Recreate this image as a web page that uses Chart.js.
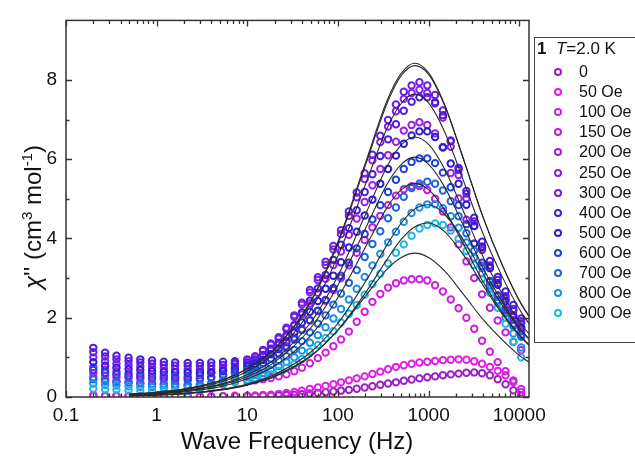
<!DOCTYPE html>
<html><head><meta charset="utf-8">
<script src="https://cdn.jsdelivr.net/npm/chart.js@4.4.1/dist/chart.umd.min.js"></script>
<style>
html,body{margin:0;padding:0;background:#fff;}
#wrap{position:relative;width:635px;height:466px;overflow:hidden;font-family:"Liberation Sans",Arial,sans-serif;color:#111;}
#c{position:absolute;left:0;top:0;}
#ytitle{position:absolute;left:33px;top:217px;transform:translate(-50%,-50%) rotate(-90deg);white-space:nowrap;font-size:24px;}
#ytitle sup{font-size:15px;vertical-align:9px;line-height:0;}
#xtitle{position:absolute;left:297px;top:441px;transform:translate(-50%,-50%);white-space:nowrap;font-size:24px;}
#legbox{position:absolute;left:534px;top:37px;width:104px;height:306px;border:1px solid #444;box-sizing:border-box;}
.lg{position:absolute;font-size:16px;line-height:20px;white-space:nowrap;}
.mk{position:absolute;width:8px;height:8px;border-radius:50%;box-sizing:border-box;border:2.2px solid #000;}
</style></head>
<body>
<div id="wrap">
<canvas id="c" width="635" height="466"></canvas>
<div id="ytitle"><i>&chi;</i>'' (cm<sup>3</sup> mol<sup>-1</sup>)</div>
<div id="xtitle">Wave Frequency (Hz)</div>
<div id="legbox"></div>
</div>
<script>
// ---- data ----
const freq = [0.2,0.27,0.36,0.49,0.66,0.89,1.2,1.6,2.2,3.0,4.0,5.4,7.3,
  10,12.2,14.9,18.2,22.2,27,33,40,49,60,73,89,108,132,161,197,240,293,357,436,532,649,792,966,1178,1437,1754,2140,2610,3184,3885,4740,5782,7054,8606,10500];
const seriesNames = ["0","50 Oe","100 Oe","150 Oe","200 Oe","250 Oe","300 Oe","400 Oe","500 Oe","600 Oe","700 Oe","800 Oe","900 Oe"];
const seriesColors = ["#9a1fc4","#e01ee6","#cf1ee4","#bb1ee4","#a01ee4","#8a1ee6","#6c1ee6","#4a1ee0","#2c1ed4","#1e40dc","#1e66e0","#1e8ee6","#1eb8e6"];
const chi0   = [0.03,0.02,0.02,0.02,0.01,0.01,0.01,0.01,0.01,0.01,0.01,0.02,0.02, 0.02,0.02,0.03,0.03,0.04,0.05,0.06,0.07,0.09,0.10,0.12,0.14,0.16,0.18,0.21,0.24,0.27,0.31,0.34,0.37,0.41,0.44,0.47,0.50,0.52,0.55,0.57,0.59,0.61,0.62,0.60,0.55,0.45,0.32,0.17,0.03];
const chi50  = [0.05,0.04,0.04,0.03,0.03,0.03,0.03,0.02,0.02,0.02,0.02,0.02,0.03, 0.03,0.04,0.05,0.06,0.08,0.10,0.13,0.16,0.20,0.24,0.28,0.32,0.37,0.42,0.47,0.52,0.58,0.64,0.70,0.76,0.80,0.84,0.87,0.89,0.91,0.93,0.94,0.95,0.94,0.90,0.84,0.76,0.66,0.55,0.38,0.12];
const chi100 = [0.50,0.44,0.40,0.37,0.34,0.32,0.30,0.29,0.29,0.30,0.32,0.35,0.38, 0.40,0.42,0.45,0.48,0.52,0.57,0.65,0.74,0.85,0.98,1.12,1.28,1.45,1.65,1.90,2.15,2.40,2.60,2.76,2.87,2.94,2.97,2.97,2.94,2.82,2.66,2.46,2.24,2.00,1.72,1.42,1.14,0.88,0.65,0.42,0.20];
const chi150 = [0.60,0.54,0.50,0.48,0.46,0.44,0.43,0.42,0.42,0.44,0.48,0.54,0.60, 0.67,0.75,0.86,0.96,1.10,1.28,1.50,1.71,1.93,2.17,2.43,2.70,3.00,3.32,3.64,3.96,4.28,4.57,4.84,5.08,5.24,5.32,5.32,5.22,5.00,4.68,4.28,3.85,3.42,3.00,2.59,2.25,1.93,1.63,1.39,1.18];
const chi200 = [0.75,0.68,0.63,0.60,0.58,0.56,0.54,0.53,0.52,0.55,0.60,0.68,0.75, 0.83,0.90,1.04,1.18,1.32,1.52,1.80,2.08,2.36,2.63,2.98,3.33,3.67,4.09,4.50,4.92,5.34,5.75,6.10,6.44,6.72,6.86,6.93,6.86,6.65,6.31,5.65,5.01,4.47,3.87,3.31,2.90,2.57,2.22,1.94,1.66];
const chi250 = [1.00,0.90,0.84,0.80,0.77,0.74,0.72,0.70,0.69,0.69,0.70,0.74,0.82, 0.93,1.01,1.16,1.32,1.47,1.71,2.02,2.33,2.64,2.95,3.33,3.72,4.11,4.57,5.04,5.50,5.97,6.43,6.82,7.21,7.52,7.67,7.75,7.67,7.44,7.05,6.31,5.60,5.01,4.32,3.71,3.25,2.87,2.48,2.17,1.86];
const chi300 = [1.13,1.02,0.95,0.90,0.87,0.84,0.81,0.79,0.78,0.78,0.79,0.81,0.86, 0.95,1.03,1.19,1.35,1.51,1.75,2.06,2.38,2.70,3.02,3.41,3.81,4.21,4.68,5.16,5.64,6.11,6.59,6.99,7.38,7.70,7.86,7.94,7.86,7.62,7.23,6.47,5.73,5.13,4.43,3.80,3.32,2.95,2.54,2.22,1.91];
const chi400 = [1.24,1.12,1.04,0.99,0.95,0.92,0.89,0.87,0.86,0.86,0.87,0.89,0.90, 0.87,0.95,1.06,1.22,1.37,1.56,1.82,2.13,2.43,2.74,3.08,3.46,3.84,4.26,4.71,5.17,5.62,6.08,6.50,6.88,7.22,7.45,7.56,7.56,7.41,7.11,6.45,5.78,5.20,4.52,3.92,3.43,3.03,2.66,2.32,1.98];
const chi500 = [0.88,0.79,0.74,0.70,0.68,0.65,0.63,0.62,0.61,0.61,0.62,0.65,0.70, 0.77,0.84,0.94,1.08,1.21,1.38,1.62,1.88,2.15,2.42,2.73,3.06,3.40,3.77,4.17,4.58,4.98,5.38,5.75,6.09,6.39,6.60,6.70,6.70,6.56,6.29,5.89,5.38,4.85,4.31,3.77,3.26,2.83,2.42,2.05,1.75];
const chi600 = [0.68,0.61,0.57,0.54,0.52,0.50,0.49,0.48,0.47,0.47,0.50,0.56,0.63, 0.70,0.76,0.85,0.97,1.09,1.24,1.45,1.69,1.94,2.18,2.45,2.75,3.06,3.39,3.75,4.11,4.48,4.84,5.17,5.48,5.75,5.93,6.02,6.02,5.90,5.66,5.29,4.84,4.36,3.87,3.39,2.93,2.54,2.18,1.85,1.57];
const chi700 = [0.45,0.40,0.38,0.36,0.35,0.33,0.32,0.32,0.31,0.31,0.35,0.42,0.52, 0.60,0.65,0.71,0.81,0.92,1.03,1.19,1.41,1.63,1.85,2.06,2.33,2.61,2.88,3.20,3.53,3.86,4.18,4.51,4.78,5.05,5.27,5.38,5.43,5.38,5.21,4.94,4.56,4.13,3.69,3.26,2.82,2.44,2.12,1.79,1.52];
const chi800 = [0.34,0.31,0.29,0.27,0.26,0.25,0.24,0.24,0.24,0.26,0.30,0.36,0.44, 0.51,0.56,0.61,0.68,0.78,0.88,1.00,1.17,1.37,1.56,1.76,1.98,2.22,2.46,2.73,3.03,3.32,3.61,3.90,4.17,4.42,4.64,4.78,4.86,4.86,4.76,4.56,4.27,3.90,3.51,3.12,2.73,2.37,2.00,1.60,1.25];
const chi900 = [0.21,0.19,0.18,0.17,0.16,0.16,0.15,0.15,0.15,0.18,0.24,0.31,0.38, 0.44,0.48,0.53,0.57,0.66,0.74,0.83,0.96,1.14,1.31,1.49,1.66,1.88,2.10,2.32,2.58,2.85,3.11,3.37,3.64,3.85,4.07,4.25,4.34,4.38,4.34,4.20,3.99,3.68,3.33,2.98,2.63,2.25,1.85,1.40,1.00];
const seriesValues = [chi0,chi50,chi100,chi150,chi200,chi250,chi300,chi400,chi500,chi600,chi700,chi800,chi900];

// fitted curves (black lines)
const fitFreq = [0.5,1,2,5,10,20,50,100,200,350,500,700,1000,1500,2500,4000,6500,10000,12800];
const fit1 = [0.07,0.12,0.20,0.41,0.72,1.22,2.42,3.92,5.89,7.49,8.17,8.42,8.18,7.38,5.92,4.53,3.33,2.44,2.04];
const fit2 = [0.07,0.12,0.20,0.41,0.71,1.21,2.40,3.88,5.83,7.42,8.11,8.36,8.14,7.35,5.90,4.52,3.32,2.43,2.03];
const fit3 = [0.06,0.11,0.18,0.37,0.65,1.11,2.19,3.56,5.35,6.79,7.41,7.64,7.42,6.69,5.37,4.11,3.03,2.22,1.85];
const fit4 = [0.05,0.09,0.16,0.32,0.56,0.95,1.88,3.06,4.59,5.83,6.36,6.56,6.37,5.75,4.61,3.53,2.60,1.90,1.59];
const fit5 = [0.05,0.08,0.15,0.30,0.51,0.88,1.74,2.82,4.24,5.38,5.87,6.05,5.87,5.30,4.25,3.25,2.40,1.75,1.46];
const fit6 = [0.04,0.08,0.13,0.26,0.46,0.78,1.55,2.51,3.77,4.79,5.23,5.39,5.23,4.72,3.79,2.90,2.13,1.56,1.30];
const fit7 = [0.03,0.05,0.09,0.19,0.33,0.57,1.13,1.86,2.90,3.85,4.39,4.74,4.85,4.61,3.91,3.11,2.31,1.73,1.46];
const fit8 = [0.03,0.05,0.08,0.17,0.30,0.51,1.02,1.69,2.62,3.48,3.98,4.29,4.39,4.17,3.54,2.81,2.09,1.57,1.32];
const fit9 = [0.03,0.05,0.09,0.18,0.31,0.53,1.04,1.69,2.54,3.23,3.52,3.63,3.52,3.18,2.55,1.95,1.44,1.05,0.88];
const fitValues = [fit1,fit2,fit3,fit4,fit5,fit6,fit7,fit8,fit9];

const xTickLabels = ["0.1","1","10","100","1000","10000"];
const yTickLabels = ["0","2","4","6","8"];

// ---- chart ----
const datasets = [];
fitValues.forEach((fv) => {
  datasets.push({
    data: fitFreq.map((f, i) => ({x: f, y: fv[i]})),
    showLine: true, borderColor: '#2a2a2a', borderWidth: 1.1,
    pointRadius: 0, cubicInterpolationMode: 'monotone', fill: false, order: 0
  });
});
seriesValues.forEach((sv, k) => {
  datasets.push({
    data: freq.map((f, i) => ({x: f, y: sv[i]})),
    showLine: false, borderColor: seriesColors[k], backgroundColor: 'rgba(0,0,0,0)',
    pointStyle: 'circle', pointRadius: 3.2, pointBorderWidth: 2,
    pointBackgroundColor: 'rgba(0,0,0,0)', pointBorderColor: seriesColors[k],
    order: 20 - k
  });
});

function mant(v) {
  const e = Math.floor(Math.log10(v) + 1e-9);
  return v / Math.pow(10, e);
}

const frameTicks = {
  id: 'frameTicks',
  afterDatasetsDraw(chart) {
    const ctx = chart.ctx, ca = chart.chartArea;
    const xs = chart.scales.x, ys = chart.scales.y;
    ctx.save();
    ctx.strokeStyle = '#333';
    ctx.lineWidth = 1.3;
    ctx.beginPath();
    xs.ticks.forEach(t => {
      const m = mant(t.value);
      if (Math.abs(m - Math.round(m)) > 1e-6) return;
      const major = Math.round(m) === 1 || Math.round(m) === 10;
      const len = major ? 6 : 3.5;
      const px = Math.round(xs.getPixelForValue(t.value)) + 0.5;
      ctx.moveTo(px, ca.bottom); ctx.lineTo(px, ca.bottom - len);
      ctx.moveTo(px, ca.top); ctx.lineTo(px, ca.top + len);
    });
    ys.ticks.forEach(t => {
      const v = t.value;
      if (Math.abs(v - Math.round(v)) > 1e-6) return;
      const major = Math.round(v) % 2 === 0;
      const len = major ? 6 : 3.5;
      const py = Math.round(ys.getPixelForValue(v)) + 0.5;
      ctx.moveTo(ca.left, py); ctx.lineTo(ca.left + len, py);
      ctx.moveTo(ca.right, py); ctx.lineTo(ca.right - len, py);
    });
    ctx.stroke();
    ctx.lineWidth = 1.5;
    ctx.strokeRect(ca.left, ca.top, ca.right - ca.left, ca.bottom - ca.top);
    ctx.restore();
  }
};

new Chart(document.getElementById('c'), {
  type: 'scatter',
  data: {datasets},
  options: {
    responsive: false, animation: false, devicePixelRatio: 1,
    layout: {padding: {left: 0, top: 17, right: 106, bottom: 0}},
    plugins: {legend: {display: false}, tooltip: {enabled: false}},
    scales: {
      x: {
        type: 'logarithmic', min: 0.1, max: 12800,
        grid: {display: false, drawTicks: false}, border: {display: false},
        ticks: {
          autoSkip: false, maxRotation: 0, padding: 7, color: '#111',
          font: {family: '"Liberation Sans", Arial, sans-serif', size: 19},
          callback: (v) => {
            const e = Math.log10(v);
            if (Math.abs(e - Math.round(e)) < 1e-6) {
              const idx = Math.round(e) + 1;
              return xTickLabels[idx] !== undefined ? xTickLabels[idx] : '';
            }
            return '';
          }
        },
        afterFit: (s) => { s.height = 69; }
      },
      y: {
        min: 0, max: 9.5,
        grid: {display: false, drawTicks: false}, border: {display: false},
        ticks: {
          stepSize: 1, padding: 9, color: '#111',
          font: {family: '"Liberation Sans", Arial, sans-serif', size: 19},
          callback: (v) => {
            if (Math.abs(v - Math.round(v)) < 1e-6 && Math.round(v) % 2 === 0) {
              return yTickLabels[Math.round(v) / 2] || '';
            }
            return '';
          }
        },
        afterFit: (s) => { s.width = 66; }
      }
    }
  },
  plugins: [frameTicks]
});

// ---- legend (HTML) ----
const wrap = document.getElementById('wrap');
const title = document.createElement('div');
title.className = 'lg';
title.style.left = '537px'; title.style.top = '39px'; title.style.fontSize = '17px';
title.innerHTML = '<b>1</b>&nbsp;&nbsp;<i>T</i>=2.0 K';
wrap.appendChild(title);
seriesNames.forEach((name, i) => {
  const cy = 72 + 20.1 * i;
  const mk = document.createElement('div');
  mk.className = 'mk';
  mk.style.left = (558 - 4) + 'px'; mk.style.top = (cy - 4) + 'px';
  mk.style.borderColor = seriesColors[i];
  wrap.appendChild(mk);
  const t = document.createElement('div');
  t.className = 'lg';
  t.style.left = '579px'; t.style.top = (cy - 10) + 'px';
  t.textContent = name;
  wrap.appendChild(t);
});
</script>
</body></html>
